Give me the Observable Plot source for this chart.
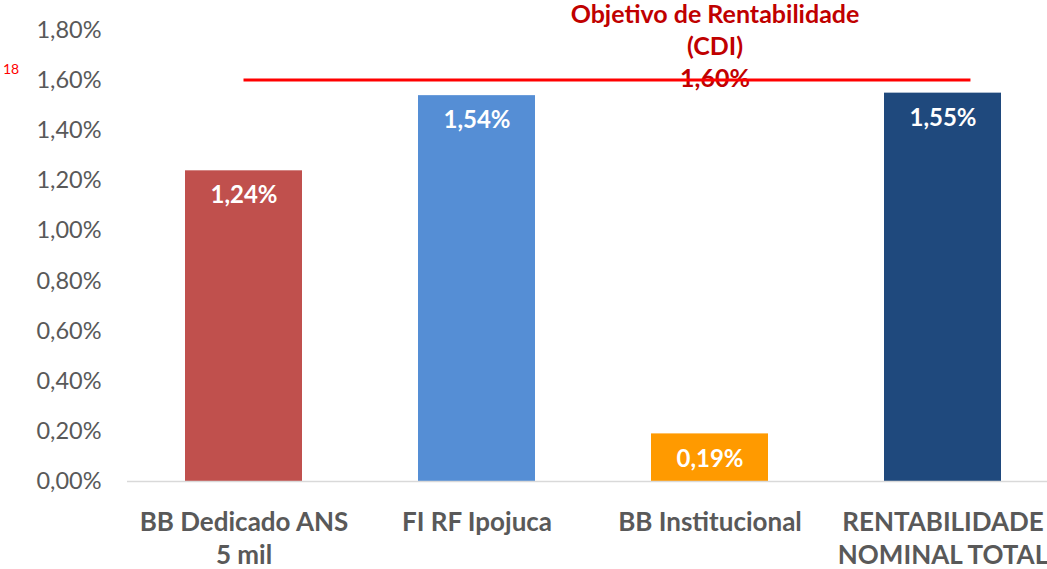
<!DOCTYPE html>
<html><head><meta charset="utf-8">
<script src="https://cdn.jsdelivr.net/npm/d3@7"></script>
<script src="https://cdn.jsdelivr.net/npm/@observablehq/plot@0.6"></script>
<style>
body{margin:0;background:#fff;font-family:Lato,"Open Sans",sans-serif;}
#wrap{position:relative;width:1047px;height:569px;overflow:hidden;}
#pg{position:absolute;left:3px;top:60px;color:#ff0000;font-size:14px;font-family:Lato,sans-serif;}
</style></head>
<body><div id="wrap"><div id="pg">18</div></div>
<script>
const categories = ["BB Dedicado ANS 5 mil","FI RF Ipojuca","BB Institucional","RENTABILIDADE NOMINAL TOTAL"];
const tickLabels = ["BB Dedicado ANS\n5 mil","FI RF Ipojuca","BB Institucional","RENTABILIDADE\nNOMINAL TOTAL"];
const values = [1.24, 1.54, 0.19, 1.55];
const colors = ["#C0504D","#558ED5","#FF9A00","#1F497D"];
const yTicks = [0,0.2,0.4,0.6,0.8,1.0,1.2,1.4,1.6,1.8];
const target = 1.60;
const targetLabel = "Objetivo de Rentabilidade\n(CDI)\n1,60%";

const data = categories.map((c,i)=>({c, v: values[i], col: colors[i]}));
const fmt = v => v.toFixed(2).replace(".", ",") + "%";

const plot = Plot.plot({
  width: 1047, height: 569,
  marginLeft: 127, marginRight: 0, marginTop: 30, marginBottom: 88,
  style: {fontFamily: "Lato, 'Open Sans', sans-serif", background: "#fff", overflow: "visible"},
  x: {domain: categories, range: [126.5, 1058.5], paddingInner: 0.5, paddingOuter: 0.25, label: null},
  y: {domain: [0, 1.8], label: null},
  marks: [
    Plot.axisY({ticks: yTicks, tickFormat: fmt, tickSize: 0, tickPadding: 26, fontSize: 23.5, fill: "#595959", label: null}),
    Plot.axisX({tickSize: 0, tickPadding: 25, fontSize: 26, fontWeight: "bold", fill: "#595959", lineHeight: 1.3,
      tickFormat: d => tickLabels[categories.indexOf(d)], label: null}),
    Plot.barY(data, {x: "c", y: "v", fill: "col"}),
    Plot.ruleY([0], {stroke: "#D9D9D9", strokeWidth: 1.5}),
    Plot.text(data, {x: "c", y: "v", text: d => fmt(d.v), dy: 25, fill: "#fff", fontWeight: "bold", fontSize: 24}),
    Plot.text([targetLabel], {x: () => categories[2], y: () => target, text: d => d, dx: 5, dy: 6, lineAnchor: "bottom", lineHeight: 1.28, fill: "#C00000", fontWeight: "bold", fontSize: 25})
  ]
});
document.getElementById("wrap").appendChild(plot);
// target line drawn from the plot's own scales
const xs = plot.scale("x"), ys = plot.scale("y");
const x1 = xs.apply(categories[0]) + xs.bandwidth / 2;
const x2 = xs.apply(categories[3]) + xs.bandwidth / 2 + xs.step * 0.12;
d3.select(plot).append("line")
  .attr("x1", x1).attr("x2", x2)
  .attr("y1", ys.apply(target)).attr("y2", ys.apply(target))
  .attr("stroke", "#FF0000").attr("stroke-width", 3);
</script></body></html>
